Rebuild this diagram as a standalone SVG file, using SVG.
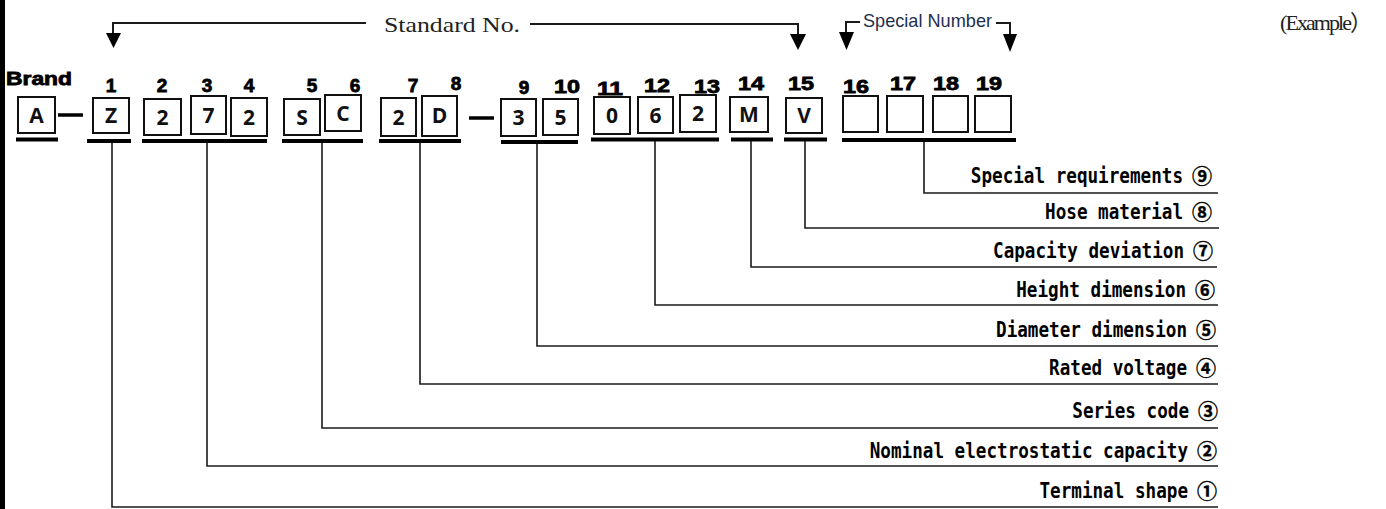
<svg xmlns="http://www.w3.org/2000/svg" width="1386" height="509" viewBox="0 0 1386 509">
<defs>
<style>
.bx{fill:#fff;stroke:#111;stroke-width:2}
.bt{font-family:"Open Sans","Liberation Sans",sans-serif;font-weight:700;font-size:21px;fill:#111;text-anchor:middle}
.num{font-family:"Liberation Sans",Arial,sans-serif;font-weight:700;font-size:19px;fill:#000;stroke:#000;stroke-width:0.8;text-anchor:middle}
.ul{stroke:#000;stroke-width:4;fill:none}
.cn{stroke:#1a1a1a;stroke-width:1.6;fill:none}
.tl{stroke:#1a1a1a;stroke-width:2;fill:none}
.lb{font-family:"DejaVu Sans Mono","Liberation Mono",monospace;font-weight:700;font-size:20.5px;fill:#000;text-anchor:end}
.cd{font-family:"Noto Sans CJK JP","Noto Sans CJK SC",sans-serif;font-weight:700;font-size:20px;fill:#000;stroke:#000;stroke-width:0.4;text-anchor:end}
.hd{font-family:"Liberation Serif","Noto Sans CJK SC",serif;font-size:22px;fill:#222}
</style>
</defs>
<rect x="0" y="0" width="5" height="509" fill="#000"/>
<g id="header">
<text class="hd" x="384" y="32" textLength="136" lengthAdjust="spacingAndGlyphs">Standard No.</text>
<text class="hd" x="1280" y="30" font-size="20px" textLength="92">(Example）</text>
<text x="863" y="27" font-family="Liberation Sans,sans-serif" font-size="19px" fill="#1f2f4f" textLength="129" lengthAdjust="spacingAndGlyphs">Special Number</text>
</g>
<g id="top-arrows">
<polyline class="tl" points="366,23 113,23 113,34"/>
<polygon points="106,33 121,33 113.5,48" fill="#000"/>
<polyline class="tl" points="530,24 798,24 798,35"/>
<polygon points="790,34 806,34 798,50" fill="#000"/>
<polyline class="tl" points="860,22 846,22 846,33"/>
<polygon points="839,32 854,32 846.5,50" fill="#000"/>
<polyline class="tl" points="996,23 1010,23 1010,35"/>
<polygon points="1003,34 1017,34 1010,52" fill="#000"/>
</g>
<g id="brand">
<text x="6" y="85" font-family="Liberation Sans,sans-serif" font-weight="700" font-size="18px" stroke="#000" stroke-width="0.8" textLength="66" lengthAdjust="spacingAndGlyphs">Brand</text>
<rect class="bx" x="18" y="97" width="37" height="36"/>
<text class="bt" x="36.5" y="123">A</text>
<line class="ul" x1="16" y1="139.5" x2="58" y2="139.5"/>
</g>
<line x1="58" y1="115" x2="83" y2="115" stroke="#000" stroke-width="3.5"/>
<line x1="469" y1="118" x2="494" y2="118" stroke="#000" stroke-width="3.5"/>
<g id="numbers">
<text class="num" x="111" y="92">1</text>
<text class="num" x="162" y="92">2</text>
<text class="num" x="207" y="92">3</text>
<text class="num" x="249" y="92">4</text>
<text class="num" x="312" y="92">5</text>
<text class="num" x="355" y="92">6</text>
<text class="num" x="413" y="92">7</text>
<text class="num" x="456" y="90">8</text>
<text class="num" x="524" y="94">9</text>
<text class="num" x="567" y="93" textLength="26" lengthAdjust="spacingAndGlyphs">10</text>
<text class="num" x="610" y="95" textLength="26" lengthAdjust="spacingAndGlyphs">11</text>
<text class="num" x="657" y="92" textLength="26" lengthAdjust="spacingAndGlyphs">12</text>
<text class="num" x="707" y="93" textLength="26" lengthAdjust="spacingAndGlyphs">13</text>
<text class="num" x="751" y="90" textLength="26" lengthAdjust="spacingAndGlyphs">14</text>
<text class="num" x="801" y="90" textLength="26" lengthAdjust="spacingAndGlyphs">15</text>
<text class="num" x="856" y="93" textLength="26" lengthAdjust="spacingAndGlyphs">16</text>
<text class="num" x="903" y="90" textLength="26" lengthAdjust="spacingAndGlyphs">17</text>
<text class="num" x="946" y="90" textLength="26" lengthAdjust="spacingAndGlyphs">18</text>
<text class="num" x="989" y="90" textLength="26" lengthAdjust="spacingAndGlyphs">19</text>
</g>
<g id="terminal-shape">
<rect class="bx" x="93" y="98" width="36" height="35"/>
<text class="bt" x="111" y="123">Z</text>
<line class="ul" x1="87" y1="141" x2="131" y2="141"/>
</g>
<g id="nominal-capacity">
<rect class="bx" x="144" y="99" width="37" height="36"/>
<text class="bt" x="162.5" y="125">2</text>
<rect class="bx" x="191" y="96" width="35" height="38"/>
<text class="bt" x="208.5" y="123">7</text>
<rect class="bx" x="231" y="98" width="36" height="38"/>
<text class="bt" x="249" y="125">2</text>
<line class="ul" x1="142" y1="141" x2="267" y2="141"/>
</g>
<g id="series-code">
<rect class="bx" x="284" y="99" width="36" height="36"/>
<text class="bt" x="302" y="125">S</text>
<rect class="bx" x="325" y="95" width="36" height="36"/>
<text class="bt" x="343" y="121">C</text>
<line class="ul" x1="282" y1="141" x2="363" y2="141"/>
</g>
<g id="rated-voltage">
<rect class="bx" x="381" y="98" width="35" height="38"/>
<text class="bt" x="398.5" y="125">2</text>
<rect class="bx" x="422" y="96" width="35" height="40"/>
<text class="bt" x="439.5" y="123">D</text>
<line class="ul" x1="379" y1="141" x2="461" y2="141"/>
</g>
<g id="diameter">
<rect class="bx" x="501" y="99" width="35" height="37"/>
<text class="bt" x="518.5" y="125">3</text>
<rect class="bx" x="543" y="99" width="35" height="36"/>
<text class="bt" x="560.5" y="125">5</text>
<line class="ul" x1="501" y1="142" x2="578" y2="142"/>
</g>
<g id="height">
<rect class="bx" x="594" y="97" width="36" height="37"/>
<text class="bt" x="612" y="123">0</text>
<rect class="bx" x="638" y="97" width="35" height="36"/>
<text class="bt" x="655.5" y="123">6</text>
<rect class="bx" x="680" y="95" width="36" height="37"/>
<text class="bt" x="698" y="121">2</text>
<line class="ul" x1="591" y1="139.5" x2="719" y2="139.5"/>
</g>
<g id="capacity-deviation">
<rect class="bx" x="730" y="97" width="38" height="35"/>
<text class="bt" x="749" y="122">M</text>
<line class="ul" x1="731" y1="139.5" x2="773" y2="139.5"/>
</g>
<g id="hose-material">
<rect class="bx" x="786" y="98" width="36" height="35"/>
<text class="bt" x="804" y="123">V</text>
<line class="ul" x1="784" y1="139.5" x2="827" y2="139.5"/>
</g>
<g id="special-requirements">
<rect class="bx" x="843" y="96" width="35" height="36"/>
<rect class="bx" x="887" y="96" width="36" height="36"/>
<rect class="bx" x="933" y="96" width="35" height="36"/>
<rect class="bx" x="975" y="96" width="36" height="36"/>
<line class="ul" x1="842" y1="140" x2="1016" y2="140"/>
</g>
<g id="connectors">
<polyline class="cn" points="112,143 112,507 1218,507"/>
<polyline class="cn" points="207,143 207,466 1218,466"/>
<polyline class="cn" points="322,143 322,428 1218,428"/>
<polyline class="cn" points="420,143 420,384 1218,384"/>
<polyline class="cn" points="537,144 537,346 1218,346"/>
<polyline class="cn" points="655,141 655,305 1218,305"/>
<polyline class="cn" points="751,141 751,267 1217,267"/>
<polyline class="cn" points="805,141 805,228 1219,228"/>
<polyline class="cn" points="924,142 924,193 1218,193"/>
</g>
<g id="labels">
<text class="lb" transform="translate(1183,183) scale(0.86,1)">Special requirements</text>
<text class="cd" x="1212" y="184">⑨</text>
<text class="lb" transform="translate(1183,219) scale(0.86,1)">Hose material</text>
<text class="cd" x="1212" y="220">⑧</text>
<text class="lb" transform="translate(1184,258) scale(0.86,1)">Capacity deviation</text>
<text class="cd" x="1213" y="259">⑦</text>
<text class="lb" transform="translate(1186,297) scale(0.86,1)">Height dimension</text>
<text class="cd" x="1215" y="298">⑥</text>
<text class="lb" transform="translate(1187,337) scale(0.86,1)">Diameter dimension</text>
<text class="cd" x="1216" y="338">⑤</text>
<text class="lb" transform="translate(1187,375) scale(0.86,1)">Rated voltage</text>
<text class="cd" x="1216" y="376">④</text>
<text class="lb" transform="translate(1189,418) scale(0.86,1)">Series code</text>
<text class="cd" x="1218" y="419">③</text>
<text class="lb" transform="translate(1188,458) scale(0.86,1)">Nominal electrostatic capacity</text>
<text class="cd" x="1217" y="459">②</text>
<text class="lb" transform="translate(1188,498) scale(0.86,1)">Terminal shape</text>
<text class="cd" x="1217" y="499">①</text>
</g>
</svg>
